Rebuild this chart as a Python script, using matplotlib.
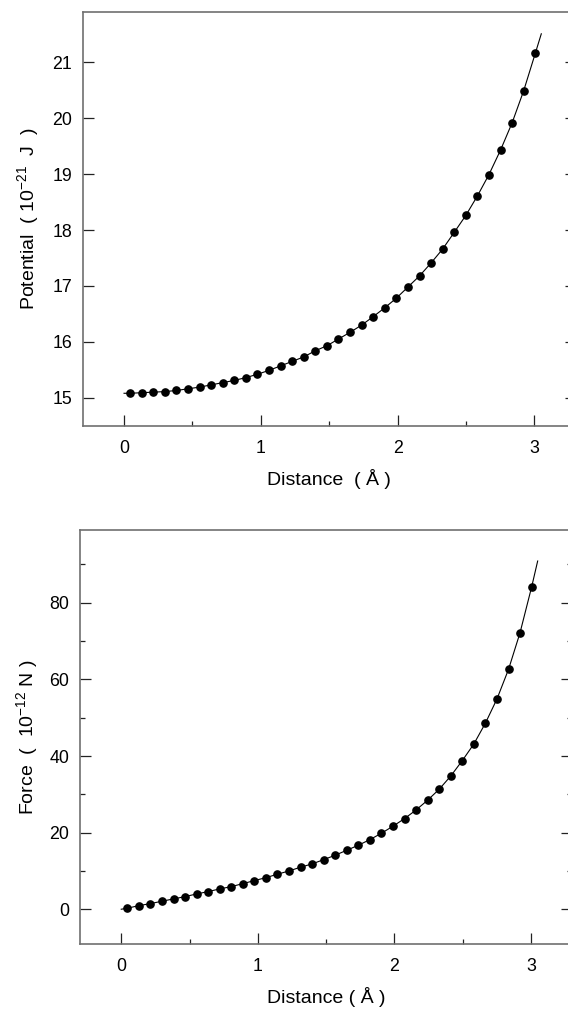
import numpy as np
import matplotlib
matplotlib.use("Agg")
import matplotlib.pyplot as plt
from matplotlib.ticker import MultipleLocator

plt.rcParams['font.family'] = ['Liberation Sans', 'DejaVu Sans']
plt.rcParams['mathtext.fontset'] = 'custom'
plt.rcParams['mathtext.rm'] = 'Liberation Sans'
plt.rcParams['mathtext.it'] = 'Liberation Sans:italic'

# distance (A) of the sampled points
distance = [0.044, 0.129, 0.213, 0.298, 0.383, 0.467, 0.552, 0.636, 0.721, 0.806,
            0.890, 0.975, 1.060, 1.144, 1.229, 1.313, 1.398, 1.483, 1.567, 1.652,
            1.737, 1.821, 1.906, 1.990, 2.075, 2.160, 2.244, 2.329, 2.414, 2.498,
            2.583, 2.667, 2.752, 2.837, 2.921, 3.006]

potential = [15.08, 15.09, 15.10, 15.11, 15.13, 15.16, 15.19, 15.23, 15.27, 15.31,
             15.36, 15.42, 15.49, 15.57, 15.65, 15.73, 15.84, 15.93, 16.05, 16.17,
             16.30, 16.45, 16.61, 16.78, 16.98, 17.18, 17.41, 17.66, 17.96, 18.26,
             18.61, 18.99, 19.43, 19.92, 20.49, 21.16]

force = [0.26, 0.94, 1.46, 2.09, 2.69, 3.29, 3.99, 4.60, 5.30, 5.90,
         6.68, 7.47, 8.25, 9.14, 10.0, 10.97, 11.83, 12.95, 14.10, 15.40,
         16.71, 18.17, 19.84, 21.67, 23.66, 25.93, 28.46, 31.33, 34.80, 38.8,
         43.16, 48.56, 54.9, 62.66, 72.2, 84.15]

# ends of the drawn fit curve
curve_start_x, curve_end_x = 0.0, 3.05
pot_start, pot_end = 15.08, 21.51
force_start, force_end = 0.0, 90.9

W, H = 568, 1014
fig = plt.figure(figsize=(W / 100, H / 100), dpi=100)

spine_col = '#707070'
lab_fs = 14


def style(ax, ymajor, yminor):
    for s in ax.spines.values():
        s.set_color(spine_col)
        s.set_linewidth(1.2)
    ax.set_xlim(-0.3, 3.3)
    ax.xaxis.set_major_locator(MultipleLocator(1))
    ax.xaxis.set_minor_locator(MultipleLocator(0.5))
    ax.yaxis.set_major_locator(MultipleLocator(ymajor))
    if yminor:
        ax.yaxis.set_minor_locator(MultipleLocator(yminor))
    ax.tick_params(which='both', direction='in', colors='#222222', labelcolor='black',
                   labelsize=12.8, top=False, right=True)
    ax.tick_params(which='major', length=7.8, width=0.9)
    ax.tick_params(which='minor', length=3.5, width=0.9)
    ax.tick_params(axis='x', pad=10)
    ax.tick_params(axis='y', pad=8)


# top: potential
ax1 = fig.add_axes([83 / W, 1 - 425.7 / H, (575.5 - 83) / W, (425.7 - 12) / H])
ax1.plot([curve_start_x] + distance + [curve_end_x], [pot_start] + potential + [pot_end],
         '-', color='black', lw=0.8)
ax1.plot(distance, potential, 'o', color='black', ms=5.2)
ax1.set_ylim(14.5, 21.9)
style(ax1, 1, None)
ax1.set_xlabel("Distance  ( Å )", fontsize=lab_fs, labelpad=9)
ax1.set_ylabel("Potential  ( 10$^{-21}$  J  )", fontsize=lab_fs, labelpad=8)

# bottom: force
ax2 = fig.add_axes([80.3 / W, 1 - 943.7 / H, (571.8 - 80.3) / W, (943.7 - 530) / H])
ax2.plot([curve_start_x] + distance + [curve_end_x], [force_start] + force + [force_end],
         '-', color='black', lw=0.8)
ax2.plot(distance, force, 'o', color='black', ms=5.2)
ax2.set_ylim(-9, 99)
style(ax2, 20, 10)
ax2.set_xlabel("Distance ( Å )", fontsize=lab_fs, labelpad=9)
ax2.set_ylabel("Force  (  10$^{-12}$ N )", fontsize=lab_fs, labelpad=7)

fig.savefig("out.png", dpi=100)
